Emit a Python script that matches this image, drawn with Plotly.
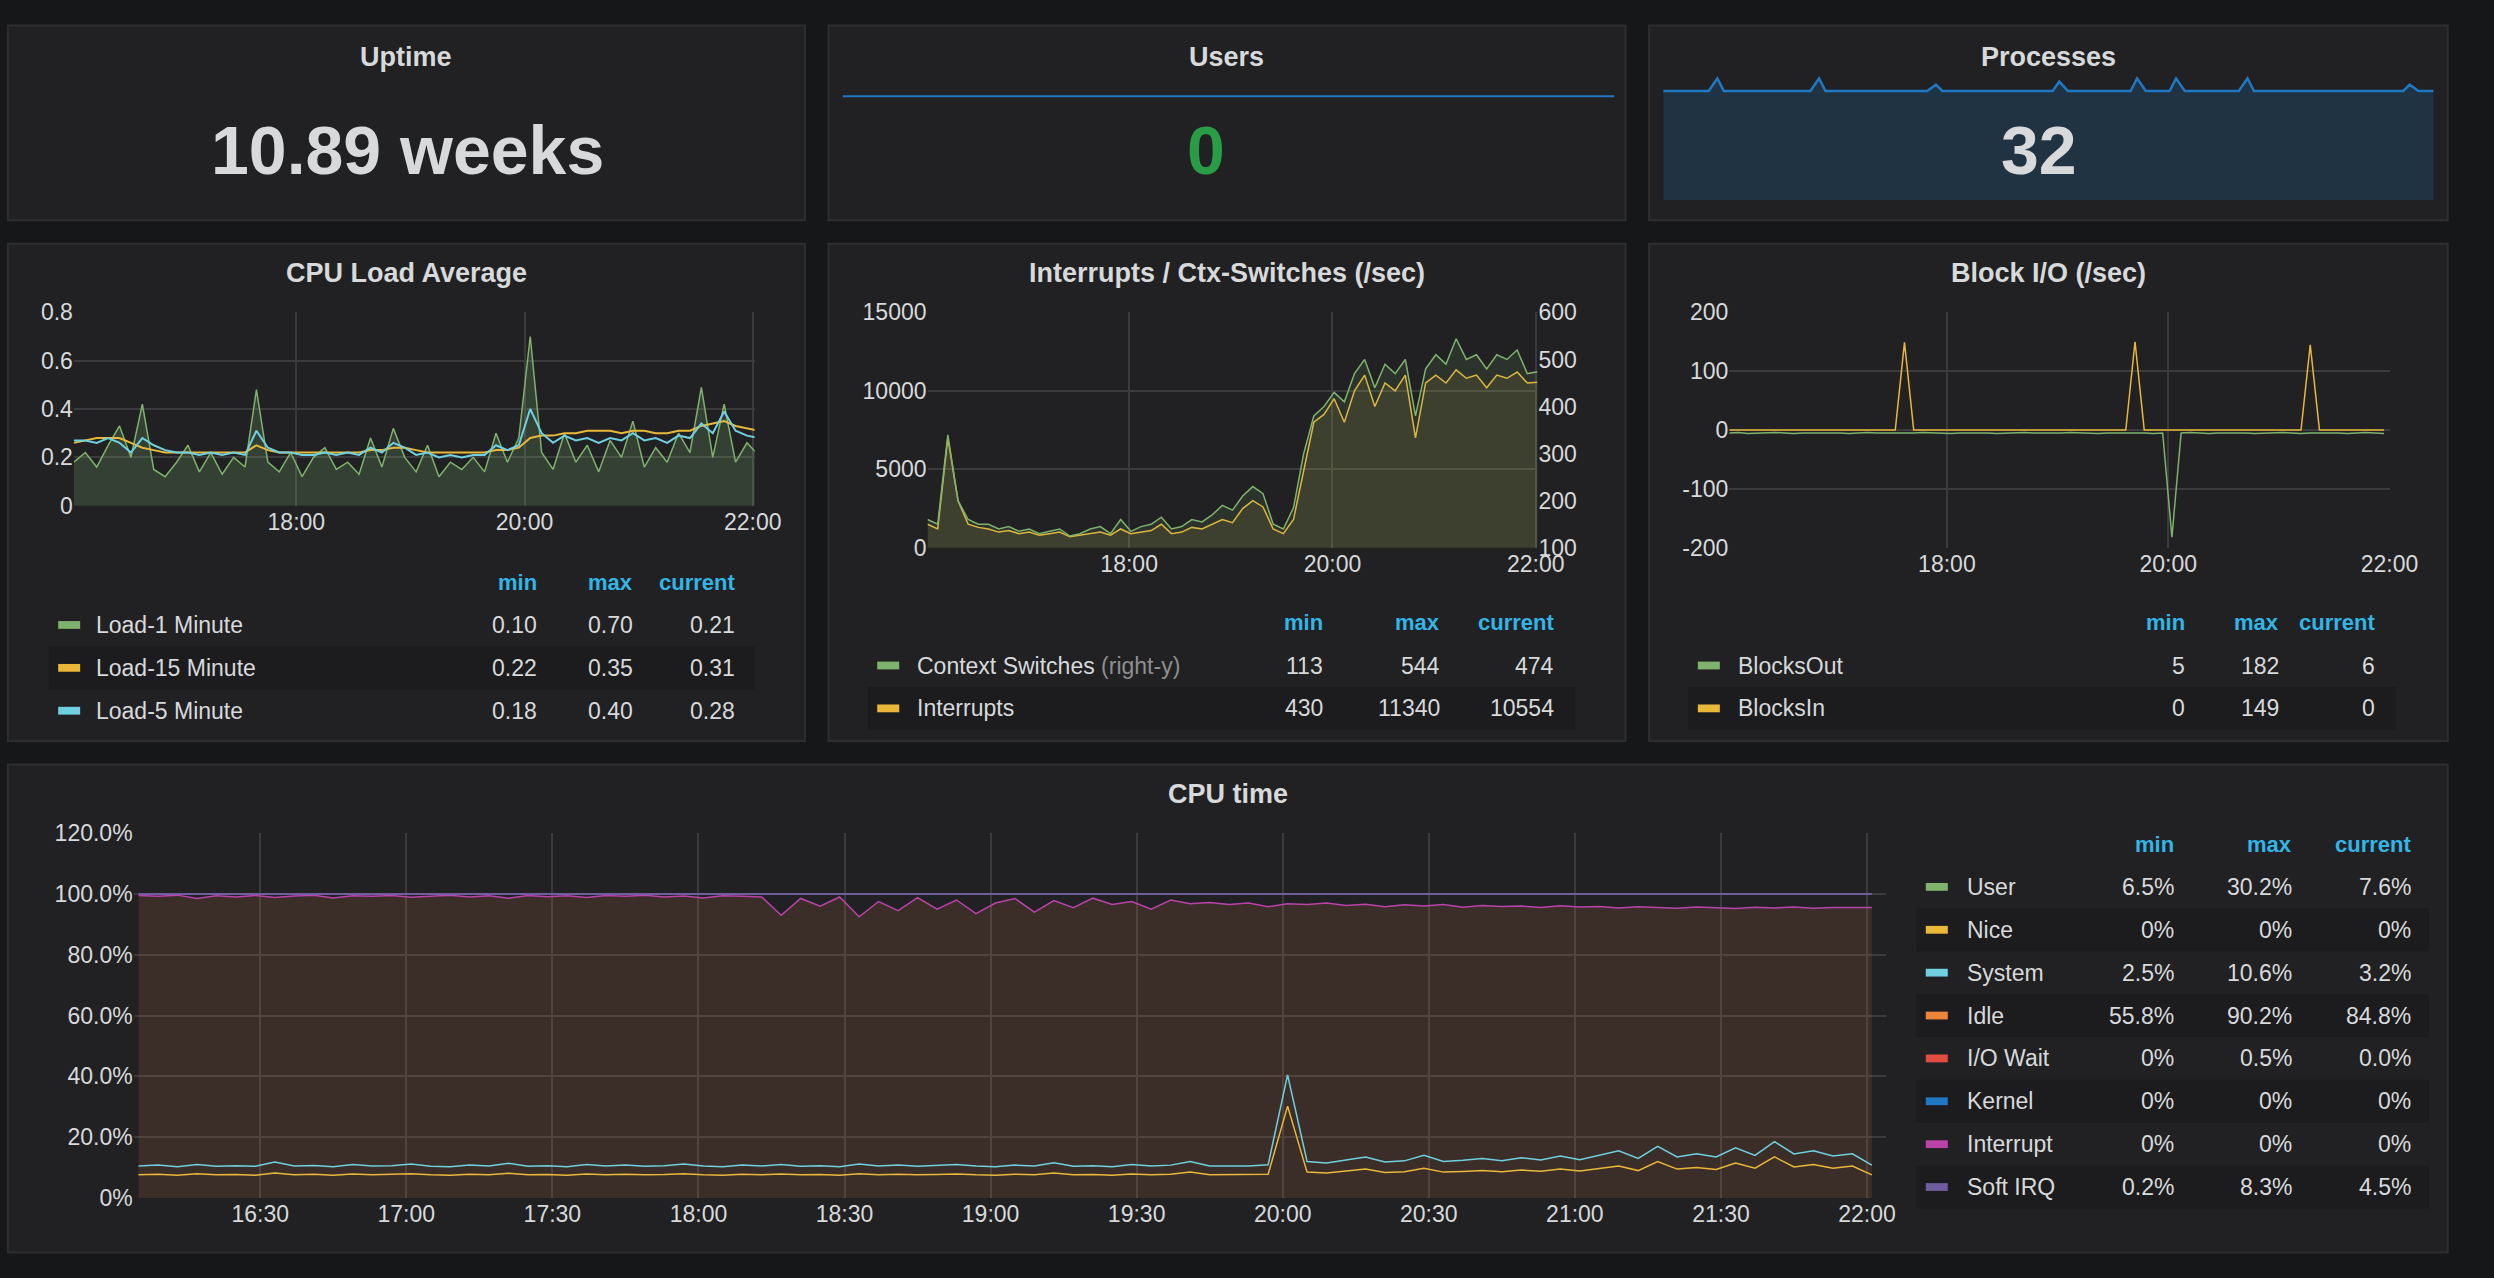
import plotly.graph_objects as go
import pandas as pd

W, H = 2494, 1278
DAY = "2017-05-01 "

# ---------------- data ----------------
load_start = "16:03"
load1 = [0.18,0.22,0.16,0.25,0.33,0.20,0.42,0.15,0.12,0.18,0.25,0.14,0.22,0.13,0.20,0.16,0.48,0.18,0.14,0.22,
         0.12,0.20,0.24,0.15,0.18,0.13,0.28,0.16,0.32,0.20,0.14,0.25,0.12,0.18,0.15,0.20,0.14,0.30,0.18,0.28,
         0.70,0.22,0.15,0.30,0.18,0.25,0.14,0.27,0.20,0.35,0.16,0.24,0.18,0.30,0.22,0.49,0.20,0.42,0.18,0.26,0.21]
load5 = [0.27,0.27,0.26,0.28,0.26,0.22,0.28,0.25,0.23,0.22,0.22,0.21,0.22,0.21,0.22,0.21,0.31,0.24,0.22,0.22,
         0.21,0.21,0.22,0.21,0.22,0.21,0.24,0.22,0.26,0.24,0.21,0.22,0.20,0.21,0.20,0.21,0.21,0.25,0.23,0.25,
         0.40,0.30,0.26,0.29,0.27,0.28,0.26,0.28,0.27,0.30,0.27,0.28,0.26,0.29,0.28,0.34,0.30,0.39,0.31,0.29,0.28]
load15 = [0.26,0.27,0.28,0.28,0.28,0.26,0.24,0.23,0.22,0.22,0.22,0.22,0.22,0.22,0.22,0.22,0.25,0.23,0.22,0.22,
          0.22,0.22,0.22,0.22,0.22,0.22,0.23,0.23,0.24,0.24,0.23,0.22,0.22,0.22,0.22,0.22,0.22,0.23,0.23,0.24,
          0.28,0.29,0.29,0.30,0.30,0.31,0.31,0.31,0.30,0.31,0.31,0.30,0.30,0.31,0.31,0.33,0.34,0.35,0.33,0.32,0.31]

intr_start = "16:01"
interrupts = [1500,1200,7000,3000,1500,1300,1200,1000,1100,900,1000,800,900,1000,700,800,900,1000,800,1200,
              900,1000,1100,1500,900,1000,1300,1200,1500,1800,1600,2500,3000,2600,1200,900,1800,5000,8000,8500,
              9500,8000,10000,11000,9000,10500,10000,11000,7000,10500,11000,10500,11340,10800,11000,10200,11000,10800,11200,10500,10554]
ctx_switches = [160,150,340,200,160,150,150,140,145,135,140,130,135,140,125,130,140,145,130,160,
                135,145,150,165,140,145,160,155,170,190,180,210,230,215,150,140,185,300,380,400,
                430,410,470,500,440,490,470,500,380,480,510,490,544,500,510,480,510,500,520,470,474]

bio_start = "16:02"
blocks_in = [0,0,0,0,0,0,0,0,0,0,0,0,0,0,0,0,0,0,0,149,0,0,0,0,0,0,0,0,0,0,0,0,0,0,0,0,
             0,0,0,0,0,0,0,0,150,0,0,0,0,0,0,0,0,0,0,0,0,0,0,0,0,0,0,145,0,0,0,0,0,0,0,0]
blocks_out = [-5,-4,-6,-5,-5,-4,-5,-6,-5,-5,-4,-5,-5,-6,-5,-4,-5,-5,-6,-5,-5,-4,-5,-5,-6,-5,-5,-4,-5,-6,-5,-5,-4,-5,-5,-6,
              -5,-4,-5,-5,-6,-5,-5,-4,-5,-5,-6,-5,-182,-5,-4,-5,-6,-5,-5,-4,-5,-6,-5,-5,-4,-5,-6,-5,-5,-4,-5,-6,-5,-4,-5,-6]

cpu_start = "16:05"
cpu_nice = [7.6,7.8,7.5,8.0,7.6,7.7,7.5,8.2,7.6,7.8,7.5,7.9,7.6,7.7,8.0,7.6,7.5,7.8,7.6,8.1,
            7.6,7.7,7.5,7.9,7.6,7.8,7.6,7.7,8.0,7.6,7.5,7.8,7.6,7.9,7.6,7.7,7.5,8.0,7.6,7.8,
            7.6,7.7,7.9,7.6,7.5,7.8,7.6,8.2,7.6,7.7,7.5,7.9,7.6,7.8,8.5,7.6,7.7,7.6,7.8,30.2,
            8.5,8.2,8.8,9.5,8.4,8.6,9.8,8.5,8.7,9.0,8.6,9.2,8.8,9.5,8.9,9.6,10.5,9.0,12.0,9.5,
            10.0,9.4,11.5,9.8,13.5,10.2,11.0,9.8,10.5,7.6]
cpu_system = [10.5,10.8,10.3,11.0,10.4,10.6,10.4,11.8,10.5,10.7,10.3,11.0,10.5,10.6,11.2,10.4,10.3,10.8,10.5,11.4,
              10.4,10.6,10.3,11.0,10.5,10.8,10.4,10.6,11.2,10.5,10.3,10.8,10.5,11.0,10.4,10.6,10.3,11.2,10.5,10.8,
              10.4,10.6,11.0,10.5,10.3,10.8,10.5,11.6,10.4,10.6,10.3,11.0,10.5,10.8,12.0,10.5,10.6,10.5,10.9,40.5,
              12.0,11.5,12.5,13.5,11.8,12.2,14.0,12.0,12.4,13.0,12.2,13.2,12.5,13.8,12.6,14.0,15.5,13.0,17.0,13.5,
              14.5,13.5,16.5,14.0,18.5,14.5,15.5,13.8,14.5,10.8]
cpu_top = [99.5,99.2,99.6,98.5,99.4,99.0,99.5,98.8,99.3,99.6,98.7,99.4,99.2,99.5,98.9,99.3,99.6,99.0,99.4,98.6,
           99.5,99.1,99.4,98.8,99.5,99.2,99.6,99.0,99.3,98.7,99.4,99.2,99.0,93.0,98.5,96.0,99.0,92.5,97.5,94.5,
           98.8,95.0,98.0,93.5,97.0,98.5,94.0,97.8,95.5,98.6,96.5,97.5,95.0,98.0,96.8,97.2,96.5,97.0,95.8,96.8,
           96.5,97.0,96.2,96.6,95.8,96.4,96.0,96.5,95.6,96.2,95.9,96.0,95.5,96.1,95.7,95.9,95.4,95.8,95.6,95.3,
           95.7,95.5,95.2,95.6,95.4,95.7,95.3,95.5,95.6,95.5]
cpu_softirq = [100.0] * len(cpu_top)

proc_values = [32,32,32,32,32,32,32,33,32,32,32,32,32,32,32,32,32,32,32,32,33,32,32,32,32,32,32,32,32,32,
               32,32,32,32,32,32.5,32,32,32,32,32,32,32,32,32,32,32,32,32,32,32,32.75,32,32,32,32,32,32,32,32,
               32,33,32,32,32,32,33,32,32,32,32,32,32,32,32,33,32,32,32,32,32,32,32,32,32,32,32,32,32,32,
               32,32,32,32,32,32,32.5,32,32,32]
users_values = [0] * 60

load_ticks = ["18:00", "20:00", "22:00"]
cpu_ticks = ["16:30","17:00","17:30","18:00","18:30","19:00","19:30","20:00","20:30","21:00","21:30","22:00"]

load_legend = [("Load-1 Minute", "#7eb26d", "0.10", "0.70", "0.21"),
               ("Load-15 Minute", "#eab839", "0.22", "0.35", "0.31"),
               ("Load-5 Minute", "#6ed0e0", "0.18", "0.40", "0.28")]
intr_legend = [("Context Switches", "#7eb26d", "113", "544", "474"),
               ("Interrupts", "#eab839", "430", "11340", "10554")]
bio_legend = [("BlocksOut", "#7eb26d", "5", "182", "6"),
              ("BlocksIn", "#eab839", "0", "149", "0")]
cpu_legend = [("User", "#7eb26d", "6.5%", "30.2%", "7.6%"),
              ("Nice", "#eab839", "0%", "0%", "0%"),
              ("System", "#6ed0e0", "2.5%", "10.6%", "3.2%"),
              ("Idle", "#ef843c", "55.8%", "90.2%", "84.8%"),
              ("I/O Wait", "#e24d42", "0%", "0.5%", "0.0%"),
              ("Kernel", "#1f78c1", "0%", "0%", "0%"),
              ("Interrupt", "#ba43a9", "0%", "0%", "0%"),
              ("Soft IRQ", "#705da0", "0.2%", "8.3%", "4.5%")]

# ---------------- helpers ----------------
def fx(x): return x / 1568
def fy(y): return 1 - y / 803

def times(start, n, step):
    return [t.strftime("%Y-%m-%d %H:%M") for t in pd.date_range(DAY + start, periods=n, freq=step)]

FONT = "Liberation Sans"
TXT = "#d8d9da"
HDR = "#33b5e5"
GRID = "#3b3b3d"

fig = go.Figure()
shapes, ann = [], []

def panel(x0, y0, x1, y1, title, ty):
    shapes.append(dict(type="rect", xref="paper", yref="paper", x0=fx(x0), x1=fx(x1), y0=fy(y1), y1=fy(y0),
                       fillcolor="#212124", line=dict(color="#2e2e31", width=2), layer="below"))
    ann.append(dict(xref="paper", yref="paper", x=fx((x0 + x1) / 2), y=fy(ty), text="<b>%s</b>" % title,
                    showarrow=False, font=dict(family=FONT, size=27, color=TXT), xanchor="center", yanchor="middle"))

def txt(x, y, s, color=TXT, size=23, anchor="left", bold=False):
    ann.append(dict(xref="paper", yref="paper", x=fx(x), y=fy(y), text=("<b>%s</b>" % s) if bold else s,
                    showarrow=False, font=dict(family=FONT, size=size, color=color), xanchor=anchor, yanchor="middle"))

def legend(rows, y_hdr, dy, sx, tx, cols, x_end, extra=None):
    for c, h in zip(cols, ["min", "max", "current"]):
        txt(c, y_hdr, h, HDR, 22, "right", True)
    for i, (name, col, a, b, c) in enumerate(rows):
        y = y_hdr + dy * (i + 1)
        if i % 2 == 1:
            shapes.append(dict(type="rect", xref="paper", yref="paper", x0=fx(sx - 6), x1=fx(x_end),
                               y0=fy(y + dy / 2), y1=fy(y - dy / 2), fillcolor="#1c1c1f", line=dict(width=0), layer="below"))
        shapes.append(dict(type="rect", xref="paper", yref="paper", x0=fx(sx), x1=fx(sx + 14),
                           y0=fy(y + 2.5), y1=fy(y - 2.5), fillcolor=col, line=dict(width=0)))
        label = name
        if extra and name in extra:
            label = name + " <span style='color:#8e8e8e'>%s</span>" % extra[name]
        txt(tx, y, label, TXT, 23)
        for cc, v in zip(cols, [a, b, c]):
            txt(cc, y, v, TXT, 23, "right")

def xax(x0, x1, y_anchor, rng, tickv, tickt):
    return dict(domain=[fx(x0), fx(x1)], anchor=y_anchor, type="date", range=rng, tickvals=tickv, ticktext=tickt,
                showgrid=True, gridcolor=GRID, gridwidth=1.5, zeroline=False, showline=False,
                tickfont=dict(family=FONT, size=23, color=TXT), ticks="", fixedrange=True)

def yax(y_top, y_bot, x_anchor, rng, tickv, tickt, side="left", overlay=None, grid=True):
    d = dict(domain=[fy(y_bot), fy(y_top)], anchor=x_anchor, range=rng, tickvals=tickv, ticktext=tickt,
             showgrid=grid, gridcolor=GRID, gridwidth=1.5, zeroline=False, showline=False, side=side,
             tickfont=dict(family=FONT, size=23, color=TXT), ticks="", fixedrange=True)
    if overlay:
        d["overlaying"] = overlay
    return d

# panels
panel(5, 8, 512, 133, "Uptime", 28)
panel(527, 8, 1034, 133, "Users", 28)
panel(1049, 8, 1557, 133, "Processes", 28)
panel(5, 148, 512, 467, "CPU Load Average", 167)
panel(527, 148, 1034, 467, "Interrupts / Ctx-Switches (/sec)", 167)
panel(1049, 148, 1557, 467, "Block I/O (/sec)", 167)
panel(5, 482, 1557, 795, "CPU time", 501)

txt(259, 88, "<b>10.89 weeks</b>", TXT, 68, "center")

# ---- sparklines ----
t_users = times("16:03", len(users_values), "6min")
fig.add_trace(go.Scatter(x=t_users, y=users_values, xaxis="x5", yaxis="y6", mode="lines",
                         line=dict(color="#1f78c1", width=2), hoverinfo="skip"))
t_proc = times("16:03", len(proc_values), "216s")
fig.add_trace(go.Scatter(x=t_proc, y=proc_values, xaxis="x6", yaxis="y7", mode="lines", fill="tozeroy",
                         fillcolor="#1f3342", line=dict(color="#1f78c1", width=2.5), hoverinfo="skip"))
txt(767, 88, "<b>0</b>", "#299c46", 68, "center")
txt(1297, 88, "<b>32</b>", TXT, 68, "center")

# ---- CPU load ----
tl = times(load_start, len(load1), "6min")
fig.add_trace(go.Scatter(x=tl, y=load1, xaxis="x", yaxis="y", mode="lines", fill="tozeroy",
                         fillcolor="rgba(126,178,109,0.22)", line=dict(color="#7eb26d", width=1.5)))
fig.add_trace(go.Scatter(x=tl, y=load15, xaxis="x", yaxis="y", mode="lines", line=dict(color="#eab839", width=2)))
fig.add_trace(go.Scatter(x=tl, y=load5, xaxis="x", yaxis="y", mode="lines", line=dict(color="#6ed0e0", width=2)))
legend(load_legend, 365, 27.5, 37, 60, [343, 404, 469], 480)

# ---- interrupts ----
ti = times(intr_start, len(interrupts), "6min")
fig.add_trace(go.Scatter(x=ti, y=ctx_switches, xaxis="x2", yaxis="y3", mode="lines", fill="tozeroy",
                         fillcolor="rgba(126,178,109,0.12)", line=dict(color="#7eb26d", width=1.5)))
fig.add_trace(go.Scatter(x=ti, y=interrupts, xaxis="x2", yaxis="y2", mode="lines", fill="tozeroy",
                         fillcolor="rgba(234,184,57,0.10)", line=dict(color="#eab839", width=1.5)))
legend(intr_legend, 391, 27.5, 558, 582, [843, 917, 990], 1002, {"Context Switches": "(right-y)"})

# ---- block io ----
tb = times(bio_start, len(blocks_in), "5min")
fig.add_trace(go.Scatter(x=tb, y=blocks_out, xaxis="x3", yaxis="y4", mode="lines", line=dict(color="#7eb26d", width=1.5)))
fig.add_trace(go.Scatter(x=tb, y=blocks_in, xaxis="x3", yaxis="y4", mode="lines", line=dict(color="#eab839", width=1.5)))
legend(bio_legend, 391, 27.5, 1080, 1104, [1391, 1451, 1512], 1524)

# ---- cpu time ----
tc = times(cpu_start, len(cpu_top), "4min")
fig.add_trace(go.Scatter(x=tc, y=cpu_top, xaxis="x4", yaxis="y5", mode="lines", fill="tozeroy",
                         fillcolor="rgba(239,132,60,0.13)", line=dict(color="#ba43a9", width=1.5)))
fig.add_trace(go.Scatter(x=tc, y=cpu_softirq, xaxis="x4", yaxis="y5", mode="lines", line=dict(color="#705da0", width=2)))
fig.add_trace(go.Scatter(x=tc, y=cpu_system, xaxis="x4", yaxis="y5", mode="lines", line=dict(color="#6ed0e0", width=1.5)))
fig.add_trace(go.Scatter(x=tc, y=cpu_nice, xaxis="x4", yaxis="y5", mode="lines", line=dict(color="#eab839", width=1.5)))
legend(cpu_legend, 533, 27.5, 1225, 1250, [1384, 1459, 1535], 1545)

lt = [DAY + t for t in load_ticks]
ct = [DAY + t for t in cpu_ticks]
fig.update_layout(
    autosize=True, margin=dict(l=0, r=0, t=0, b=0), showlegend=False,
    paper_bgcolor="#161719", plot_bgcolor="rgba(0,0,0,0)", hovermode=False,
    xaxis=xax(47, 480, "y", [DAY + "16:03", DAY + "22:01"], lt, load_ticks),
    yaxis=yax(192, 316, "x", [0, 0.8], [0, 0.2, 0.4, 0.6, 0.8], ["0", "0.2", "0.4", "0.6", "0.8"]),
    xaxis2=xax(590, 978, "y2", [DAY + "16:01", DAY + "22:01"], lt, load_ticks),
    yaxis2=yax(192, 343, "x2", [0, 15000], [0, 5000, 10000, 15000], ["0", "5000", "10000", "15000"]),
    yaxis3=yax(192, 343, "x2", [100, 600], [100, 200, 300, 400, 500, 600], ["100", "200", "300", "400", "500", "600"],
               side="right", overlay="y2", grid=False),
    xaxis3=xax(1100, 1520, "y4", [DAY + "16:02", DAY + "22:00"], lt, load_ticks),
    yaxis4=yax(192, 343, "x3", [-200, 200], [-200, -100, 0, 100, 200], ["-200", "-100", "0", "100", "200"]),
    xaxis4=xax(85, 1200, "y5", [DAY + "16:04", DAY + "22:04"], ct, cpu_ticks),
    yaxis5=yax(526, 760, "x4", [0, 120], [0, 20, 40, 60, 80, 100, 120],
               ["0%", "20.0%", "40.0%", "60.0%", "80.0%", "100.0%", "120.0%"]),
    xaxis5=dict(domain=[fx(536), fx(1027)], anchor="y6", visible=False, fixedrange=True),
    yaxis6=dict(domain=[fy(120), fy(40)], anchor="x5", visible=False, range=[-6, 1.2], fixedrange=True),
    xaxis6=dict(domain=[fx(1058), fx(1548)], anchor="y7", visible=False, fixedrange=True),
    yaxis7=dict(domain=[fy(120), fy(40)], anchor="x6", visible=False, range=[23.25, 33.25], fixedrange=True),
    shapes=shapes, annotations=ann,
)
fig.write_html("out.html", default_width="100vw", default_height="100vh",
               config={"displayModeBar": False, "responsive": True},
               post_script="document.body.style.margin='0';document.body.style.overflow='hidden';"
                           "window.dispatchEvent(new Event('resize'));")
